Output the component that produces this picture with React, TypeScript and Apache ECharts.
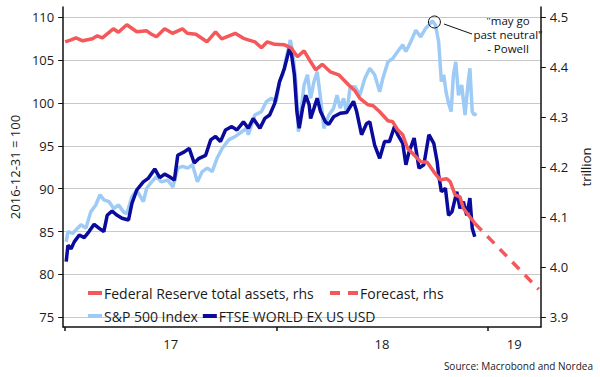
import React, { useEffect, useRef } from "react";
import * as echarts from "echarts";

// x values are decimal years
const fedAssets: [number, number][] = [
  [2017.0, 4.451], [2017.028, 4.455], [2017.051, 4.459], [2017.083, 4.453], [2017.129, 4.457],
  [2017.152, 4.463], [2017.176, 4.459], [2017.228, 4.477], [2017.252, 4.47], [2017.292, 4.485],
  [2017.339, 4.471], [2017.386, 4.473], [2017.409, 4.466], [2017.432, 4.461], [2017.471, 4.477],
  [2017.508, 4.468], [2017.555, 4.477], [2017.578, 4.468], [2017.619, 4.466], [2017.671, 4.451],
  [2017.712, 4.471], [2017.741, 4.457], [2017.805, 4.468], [2017.844, 4.458], [2017.867, 4.455],
  [2017.898, 4.451], [2017.929, 4.439], [2017.957, 4.451], [2017.992, 4.446], [2018.038, 4.445],
  [2018.069, 4.439], [2018.1, 4.421], [2018.131, 4.433], [2018.162, 4.411], [2018.186, 4.395],
  [2018.217, 4.406], [2018.255, 4.391], [2018.295, 4.385], [2018.341, 4.365], [2018.372, 4.353],
  [2018.395, 4.338], [2018.434, 4.325], [2018.458, 4.323], [2018.489, 4.311], [2018.528, 4.293],
  [2018.551, 4.291], [2018.574, 4.275], [2018.598, 4.265], [2018.621, 4.238], [2018.644, 4.228],
  [2018.683, 4.211], [2018.714, 4.21], [2018.745, 4.191], [2018.776, 4.175], [2018.807, 4.177],
  [2018.823, 4.171], [2018.846, 4.145], [2018.869, 4.141], [2018.885, 4.118], [2018.908, 4.105],
  [2018.939, 4.088],
];

const fedForecast: [number, number][] = [
  [2018.939, 4.088], [2019.242, 3.956],
];

const sp500: [number, number][] = [
  [2017.005, 83.8], [2017.013, 85.0], [2017.036, 84.8], [2017.059, 85.4], [2017.075, 85.8],
  [2017.098, 85.4], [2017.121, 87.3], [2017.145, 88.1], [2017.165, 89.3], [2017.183, 88.7],
  [2017.207, 88.5], [2017.23, 87.7], [2017.253, 88.1], [2017.276, 87.3], [2017.292, 87.1],
  [2017.316, 89.07], [2017.339, 89.85], [2017.37, 88.5], [2017.386, 90.05], [2017.409, 90.8],
  [2017.432, 91.4], [2017.455, 90.8], [2017.486, 91.0], [2017.51, 90.2], [2017.533, 92.4],
  [2017.556, 92.6], [2017.58, 92.4], [2017.603, 92.8], [2017.626, 90.8], [2017.649, 92.0],
  [2017.673, 92.4], [2017.696, 92.0], [2017.719, 93.55], [2017.743, 94.7], [2017.774, 95.7],
  [2017.805, 96.1], [2017.828, 96.5], [2017.859, 97.05], [2017.867, 96.3], [2017.898, 98.6],
  [2017.929, 99.0], [2017.952, 100.15], [2017.976, 100.55], [2017.999, 100.15], [2018.015, 102.5],
  [2018.03, 103.3], [2018.046, 105.2], [2018.066, 107.35], [2018.077, 106.0], [2018.092, 102.5],
  [2018.104, 96.65], [2018.116, 99.0], [2018.131, 102.1], [2018.147, 103.3], [2018.162, 100.55],
  [2018.178, 102.5], [2018.193, 103.65], [2018.209, 100.55], [2018.225, 97.05], [2018.248, 98.6],
  [2018.271, 99.4], [2018.287, 100.9], [2018.302, 99.4], [2018.318, 100.55], [2018.333, 98.8],
  [2018.349, 101.9], [2018.372, 101.9], [2018.395, 100.9], [2018.419, 102.9], [2018.442, 104.05],
  [2018.465, 103.3], [2018.489, 101.3], [2018.504, 102.9], [2018.528, 104.8], [2018.551, 105.2],
  [2018.574, 106.0], [2018.598, 106.8], [2018.613, 106.0], [2018.636, 107.15], [2018.66, 108.5],
  [2018.683, 107.7], [2018.706, 108.7], [2018.722, 109.1], [2018.738, 109.6], [2018.753, 109.1],
  [2018.768, 107.15], [2018.781, 102.5], [2018.792, 103.3], [2018.803, 101.3], [2018.815, 99.96],
  [2018.827, 99.0], [2018.838, 103.3], [2018.849, 104.8], [2018.862, 100.9], [2018.877, 102.1],
  [2018.893, 98.6], [2018.908, 102.5], [2018.916, 104.05], [2018.927, 99.0], [2018.936, 98.6],
  [2018.947, 98.8],
];

const ftseWorldExUs: [number, number][] = [
  [2017.005, 81.5], [2017.013, 83.4], [2017.028, 83.0], [2017.043, 83.8], [2017.067, 84.6],
  [2017.09, 84.3], [2017.113, 85.0], [2017.137, 85.85], [2017.16, 85.4], [2017.183, 85.0],
  [2017.199, 86.9], [2017.222, 87.4], [2017.246, 86.9], [2017.269, 86.55], [2017.3, 86.35],
  [2017.316, 88.3], [2017.339, 89.85], [2017.37, 90.8], [2017.393, 91.2], [2017.424, 92.3],
  [2017.448, 91.3], [2017.471, 91.7], [2017.494, 91.4], [2017.517, 91.0], [2017.533, 93.9],
  [2017.564, 94.3], [2017.587, 94.7], [2017.611, 93.0], [2017.634, 93.55], [2017.665, 93.9],
  [2017.689, 95.7], [2017.712, 96.1], [2017.735, 95.5], [2017.759, 96.85], [2017.789, 97.25],
  [2017.813, 96.85], [2017.844, 97.8], [2017.867, 97.05], [2017.89, 98.2], [2017.922, 97.05],
  [2017.945, 98.2], [2017.968, 98.6], [2017.992, 99.96], [2018.015, 102.5], [2018.038, 104.05],
  [2018.062, 106.4], [2018.072, 105.6], [2018.085, 103.3], [2018.097, 99.0], [2018.108, 97.05],
  [2018.124, 99.4], [2018.139, 100.9], [2018.155, 99.8], [2018.162, 98.2], [2018.178, 99.4],
  [2018.193, 100.55], [2018.209, 99.0], [2018.232, 97.8], [2018.248, 97.5], [2018.271, 98.4],
  [2018.302, 98.8], [2018.333, 98.9], [2018.365, 100.2], [2018.38, 99.0], [2018.403, 96.3],
  [2018.427, 97.6], [2018.442, 97.8], [2018.465, 95.1], [2018.489, 93.55], [2018.512, 95.5],
  [2018.535, 95.5], [2018.559, 97.25], [2018.574, 96.3], [2018.598, 95.3], [2018.613, 92.8],
  [2018.628, 94.3], [2018.652, 95.9], [2018.675, 92.4], [2018.698, 92.8], [2018.722, 96.3],
  [2018.745, 95.3], [2018.761, 93.15], [2018.768, 91.6], [2018.781, 89.65], [2018.8, 90.05],
  [2018.815, 86.9], [2018.831, 87.3], [2018.854, 89.65], [2018.869, 87.7], [2018.885, 88.5],
  [2018.901, 86.9], [2018.916, 88.9], [2018.927, 85.4], [2018.939, 84.4],
];

const yearTicks = [2017, 2018, 2019];
const yearLabelPositions = [2017.5, 2018.5, 2019.126];
const leftTicks = [75, 80, 85, 90, 95, 100, 105, 110];
const rightTicks = [3.9, 4.0, 4.1, 4.2, 4.3, 4.4, 4.5];
const powellPoint: [number, number] = [2018.748, 109.45];

const FONT = "'Open Sans', 'Noto Sans', sans-serif";
const RED = "#f4585b";
const LIGHT = "#9dcbf6";
const DARK = "#0a0a9c";
const TEXT = "#1a1a1a";

const SOLID_ICON = "rect";
const DASH_ICON = "path://M0,0H10V4H0Z M18,0H28V4H18Z";

export default function App() {
  const ref = useRef<HTMLDivElement>(null);
  useEffect(() => {
    if (!ref.current) return;
    const chart = echarts.init(ref.current, null, { renderer: "svg" });
    const legendText = { color: TEXT, fontSize: 14, fontFamily: FONT, padding: [0, 0, 0, -3] };
    chart.setOption({
      animation: false,
      textStyle: { fontFamily: FONT },
      grid: { left: 62, right: 53, top: 7, bottom: 50 },
      xAxis: {
        type: "value",
        min: 2016.9907,
        max: 2019.2517,
        axisLine: { show: true, onZero: false, lineStyle: { color: "#111", width: 1.5 } },
        axisTick: { show: true, length: 4, customValues: yearTicks, lineStyle: { color: "#111", width: 1.5 } },
        axisLabel: {
          customValues: yearLabelPositions,
          formatter: (v: number) => String(Math.floor(v)).slice(2),
          color: TEXT,
          fontSize: 13,
          margin: 10,
          fontFamily: FONT,
        },
        splitLine: { show: false },
      },
      yAxis: [
        {
          type: "value",
          min: 73.87,
          max: 111.2,
          position: "left",
          name: "2016-12-31 = 100",
          nameLocation: "middle",
          nameGap: 40,
          nameTextStyle: { color: TEXT, fontSize: 13, fontFamily: FONT },
          axisLine: { show: true, lineStyle: { color: "#111", width: 1.5 } },
          axisTick: { show: true, length: 5, customValues: leftTicks, lineStyle: { color: "#111" } },
          axisLabel: { customValues: leftTicks, color: TEXT, fontSize: 13, margin: 9, fontFamily: FONT },
          splitLine: { show: true, lineStyle: { color: "#c9c9c9", width: 1.2 } },
        },
        {
          type: "value",
          min: 3.8806,
          max: 4.5206,
          position: "right",
          name: "trillion",
          nameLocation: "middle",
          nameGap: 31,
          nameRotate: 90,
          nameTextStyle: { color: TEXT, fontSize: 13, fontFamily: FONT },
          axisLine: { show: true, lineStyle: { color: "#111", width: 1.5 } },
          axisTick: { show: true, length: 5, customValues: rightTicks, lineStyle: { color: "#111" } },
          axisLabel: {
            customValues: rightTicks,
            formatter: (v: number) => v.toFixed(1),
            color: TEXT,
            fontSize: 13,
            margin: 9,
            fontFamily: FONT,
          },
          splitLine: { show: false },
        },
      ],
      legend: [
        {
          data: [{ name: "Federal Reserve total assets, rhs", icon: SOLID_ICON }],
          left: 83,
          top: 281,
          itemWidth: 14,
          itemHeight: 4,
          textStyle: legendText,
        },
        {
          data: [{ name: "Forecast, rhs", icon: DASH_ICON }],
          left: 325,
          top: 281,
          itemWidth: 28,
          itemHeight: 4,
          textStyle: legendText,
        },
        {
          data: [
            { name: "S&P 500 Index", icon: SOLID_ICON },
            { name: "FTSE WORLD EX US USD", icon: SOLID_ICON },
          ],
          left: 83,
          top: 304,
          itemWidth: 14,
          itemHeight: 4,
          itemGap: 5,
          textStyle: legendText,
        },
      ],
      series: [
        {
          name: "S&P 500 Index",
          type: "line",
          yAxisIndex: 0,
          data: sp500,
          symbol: "none",
          lineStyle: { color: LIGHT, width: 3.5 },
          itemStyle: { color: LIGHT },
          markPoint: {
            symbol: "circle",
            symbolSize: 12,
            silent: true,
            label: { show: false },
            itemStyle: { color: "rgba(255,255,255,0)", borderColor: "#111", borderWidth: 1 },
            data: [{ coord: powellPoint }],
          },
        },
        {
          name: "FTSE WORLD EX US USD",
          type: "line",
          yAxisIndex: 0,
          data: ftseWorldExUs,
          symbol: "none",
          lineStyle: { color: DARK, width: 3.5 },
          itemStyle: { color: DARK },
        },
        {
          name: "Federal Reserve total assets, rhs",
          type: "line",
          yAxisIndex: 1,
          data: fedAssets,
          symbol: "none",
          lineStyle: { color: RED, width: 3.5 },
          itemStyle: { color: RED },
        },
        {
          name: "Forecast, rhs",
          type: "line",
          yAxisIndex: 1,
          data: fedForecast,
          symbol: "none",
          lineStyle: { color: RED, width: 3.5, type: [10, 8] },
          itemStyle: { color: RED },
        },
      ],
      graphic: [
        {
          type: "line",
          shape: { x1: 444, y1: 24, x2: 472, y2: 34 },
          style: { stroke: "#111", lineWidth: 1 },
          silent: true,
        },
        {
          type: "text",
          x: 508,
          y: 13,
          style: {
            text: '"may go\npast neutral"\n- Powell',
            textAlign: "center",
            textVerticalAlign: "top",
            fontSize: 11.5,
            lineHeight: 14.3,
            fontFamily: FONT,
            fill: "#111",
          },
          silent: true,
        },
        {
          type: "text",
          x: 593,
          y: 366,
          style: {
            text: "Source: Macrobond and Nordea",
            textAlign: "right",
            textVerticalAlign: "middle",
            fontSize: 10,
            fontFamily: FONT,
            fill: "#222",
          },
          silent: true,
        },
      ],
    });
    return () => chart.dispose();
  }, []);
  return (
    <div
      ref={ref}
      style={{ position: "fixed", left: 0, top: 0, width: 600, height: 377, background: "#fff" }}
    />
  );
}
